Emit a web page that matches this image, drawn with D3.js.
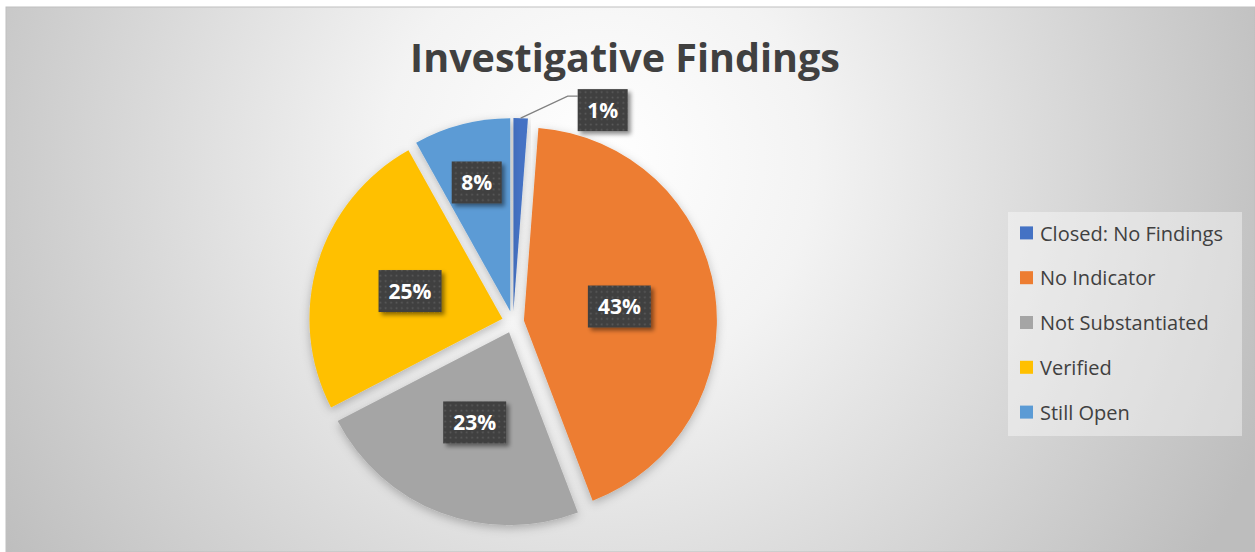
<!DOCTYPE html>
<html>
<head>
<meta charset="utf-8">
<script src="https://cdn.jsdelivr.net/npm/d3@7"></script>
<style>
  html, body { margin: 0; padding: 0; background: #fff; }
  svg { display: block; }
</style>
</head>
<body>
<div id="chart"></div>
<script>
const categories = ["Closed: No Findings", "No Indicator", "Not Substantiated", "Verified", "Still Open"];
const shares = [1.2, 43, 23.2, 24.5, 8.1];
const colors = ["#4472c4", "#ed7d31", "#a5a5a5", "#ffc000", "#5b9bd5"];

const W = 1255, H = 552;
const cx = 513, cy = 322, R = 193, explode = 11;

const svg = d3.select("#chart")
    .append("svg")
    .attr("width", W)
    .attr("height", H);

const defs = svg.append("defs");

// background gradient
const bg = defs.append("radialGradient")
    .attr("id", "bg")
    .attr("gradientUnits", "userSpaceOnUse")
    .attr("cx", 600).attr("cy", 160).attr("r", 720);
bg.append("stop").attr("offset", 0).attr("stop-color", "#ffffff");
bg.append("stop").attr("offset", 0.3).attr("stop-color", "#f3f3f3");
bg.append("stop").attr("offset", 1).attr("stop-color", "#bdbdbd");

// dotted pattern for data labels
const pat = defs.append("pattern")
    .attr("id", "dots")
    .attr("patternUnits", "userSpaceOnUse")
    .attr("width", 5.4).attr("height", 5.4);
pat.append("rect").attr("width", 5.4).attr("height", 5.4).attr("fill", "#404040");
pat.append("rect").attr("x", 1.5).attr("y", 1.5).attr("width", 1.6).attr("height", 1.6).attr("fill", "#5c5c5c");

const sliceShadow = defs.append("filter").attr("id", "sliceShadow")
    .attr("x", "-20%").attr("y", "-20%").attr("width", "140%").attr("height", "140%");
sliceShadow.append("feDropShadow")
    .attr("dx", 0).attr("dy", 3).attr("stdDeviation", 5)
    .attr("flood-color", "#000").attr("flood-opacity", 0.25);

const boxShadow = defs.append("filter").attr("id", "boxShadow")
    .attr("x", "-20%").attr("y", "-20%").attr("width", "150%").attr("height", "160%");
boxShadow.append("feDropShadow")
    .attr("dx", 3).attr("dy", 3).attr("stdDeviation", 2)
    .attr("flood-color", "#000").attr("flood-opacity", 0.45);

// chart area
svg.append("rect")
    .attr("x", 6).attr("y", 7)
    .attr("width", W - 6).attr("height", H - 7)
    .attr("fill", "url(#bg)")
    .attr("stroke", "#bfbfbf")
    .attr("stroke-width", 1);

// title
svg.append("text")
    .attr("x", 625)
    .attr("y", 72)
    .attr("text-anchor", "middle")
    .style("font-family", "'Open Sans', sans-serif")
    .style("font-size", "39.5px")
    .style("font-weight", "bold")
    .style("fill", "#404040")
    .text("Investigative Findings");

// pie
const data = categories.map((c, i) => ({ name: c, value: shares[i], color: colors[i] }));
const pie = d3.pie().sort(null).value(d => d.value);
const arcs = pie(data);
const total = d3.sum(shares);

const arc = d3.arc().innerRadius(0).outerRadius(R);

const g = svg.append("g").attr("transform", `translate(${cx},${cy})`);

const mid = d => (d.startAngle + d.endAngle) / 2;
const polar = (a, r) => [Math.sin(a) * r, -Math.cos(a) * r];

g.selectAll(".slice")
    .data(arcs)
    .enter()
    .append("path")
    .attr("class", "slice")
    .attr("d", arc)
    .attr("transform", d => {
        const [dx, dy] = polar(mid(d), explode);
        return `translate(${dx},${dy})`;
    })
    .attr("fill", d => d.data.color)
    .attr("filter", "url(#sliceShadow)");

// data labels
const fmt = d => Math.round(d.data.value / total * 100) + "%";

const labels = g.selectAll(".lbl")
    .data(arcs)
    .enter()
    .append("g")
    .attr("class", "lbl");

labels.each(function(d) {
    const sel = d3.select(this);
    const span = d.endAngle - d.startAngle;
    const [ox, oy] = polar(mid(d), explode);
    const txt = fmt(d);
    const bw = txt.length === 2 ? 50 : 63, bh = 42;
    let lx, ly;
    if (span < 0.15) {
        // small slice: label outside with leader line
        const [px, py] = polar(mid(d), R);
        const p0 = [px + ox, py + oy];
        const p1 = [p0[0] + 47, p0[1] - 22];
        const p2 = [p1[0] + 10, p1[1]];
        sel.append("polyline")
            .attr("points", [p0, p1, p2].map(p => p.join(",")).join(" "))
            .attr("fill", "none")
            .attr("stroke", "#808080")
            .attr("stroke-width", 1.3);
        lx = p2[0] + bw / 2;
        ly = p2[1] - 7 + bh / 2;
    } else {
        const r = span < 0.6 ? R * 0.69 : R * 0.5;
        const [px, py] = polar(mid(d), r);
        lx = px + ox;
        ly = py + oy;
    }
    sel.append("rect")
        .attr("x", lx - bw / 2).attr("y", ly - bh / 2)
        .attr("width", bw).attr("height", bh)
        .attr("fill", "url(#dots)")
        .attr("filter", "url(#boxShadow)");
    sel.append("text")
        .attr("x", lx).attr("y", ly)
        .attr("dy", "0.36em")
        .attr("text-anchor", "middle")
        .style("font-family", "'Open Sans', sans-serif")
        .style("font-size", "21px")
        .style("font-weight", "bold")
        .style("fill", "#fff")
        .text(txt);
});

// legend
const legend = svg.append("g").attr("transform", "translate(1008,212)");
legend.append("rect")
    .attr("width", 234).attr("height", 224)
    .attr("fill", "#fff").attr("fill-opacity", 0.4);

const row = d3.scaleBand().domain(categories).range([0, 224]);

const items = legend.selectAll(".item")
    .data(data)
    .enter()
    .append("g")
    .attr("class", "item")
    .attr("transform", d => `translate(12,${row(d.name) + row.bandwidth() / 2 - 1})`);

items.append("rect")
    .attr("x", 0).attr("y", -7)
    .attr("width", 13).attr("height", 13)
    .attr("fill", d => d.color);

items.append("text")
    .attr("x", 20).attr("y", 0)
    .attr("dy", "0.36em")
    .style("font-family", "'Open Sans', sans-serif")
    .style("font-size", "20px")
    .style("fill", "#404040")
    .text(d => d.name);
</script>
</body>
</html>
